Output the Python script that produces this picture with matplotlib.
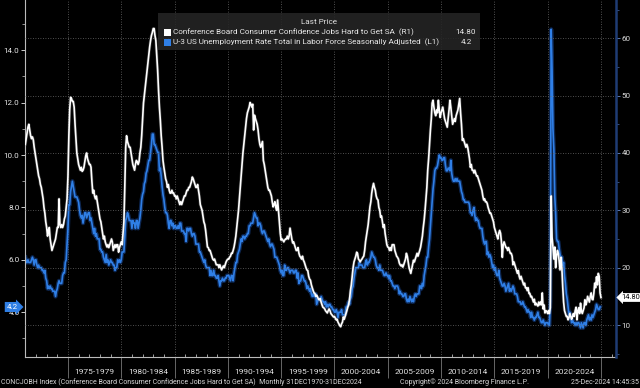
import matplotlib
matplotlib.use('Agg')
import matplotlib.pyplot as plt
import matplotlib.dates as mdates
import matplotlib.transforms as mtransforms
from matplotlib.ticker import MultipleLocator, FixedLocator, NullFormatter
from matplotlib.patches import Rectangle
import pandas as pd
from datetime import datetime

plt.rcParams['font.family'] = ['Roboto', 'DejaVu Sans']

# ---------------- DATA (monthly, starting Dec 1970) ----------------
series_start = '1970-12-31'

# Conference Board Consumer Confidence: Jobs Hard to Get (right axis, R1)
jhtg_1970s = [41.5,
    42.5, 43.5, 44.5, 45.0, 44.0, 43.0, 42.5, 42.8, 42.3, 41.0, 40.0, 39.0,
    38.0, 37.0, 36.0, 35.5, 34.5, 34.0, 33.0, 32.0, 30.5, 29.5, 28.0, 27.0,
    25.5, 26.5, 27.0, 25.0, 24.0, 23.0, 23.5, 24.0, 24.5, 25.0, 26.0, 27.0,
    27.0, 32.0, 27.5, 27.0, 27.5, 27.0, 27.5, 28.5, 29.0, 30.5, 32.0, 36.0,
    43.0, 47.5, 49.7, 49.5, 49.0, 49.0, 48.0, 45.0, 42.5, 40.0, 39.0, 38.0,
    37.5, 37.0, 37.5, 36.8, 37.0, 37.5, 38.5, 39.5, 40.0, 39.0, 38.5, 38.0,
    38.0, 37.5, 35.0, 33.0, 33.5, 32.5, 32.0, 32.5, 31.5, 30.5, 29.5, 28.5,
    28.0, 27.0, 26.0, 25.0, 25.5, 24.5, 24.0, 23.6, 24.0, 23.5, 24.0, 24.5,
    25.0, 24.5, 23.0, 23.5, 24.0, 23.5, 24.0, 24.0, 22.7, 23.5, 24.0, 24.5]
jhtg_1980s = [
    24.0, 26.0, 28.0, 34.0, 41.0, 43.0, 42.0, 41.5, 41.0, 41.0, 40.0, 39.0,
    38.0, 37.5, 37.0, 38.0, 38.7, 38.5, 38.0, 38.5, 40.0, 41.0, 43.0, 46.0,
    48.7, 50.0, 51.5, 53.0, 54.4, 55.5, 57.0, 58.5, 59.6, 60.5, 61.0, 61.7,
    61.7, 60.5, 59.6, 57.0, 54.4, 51.0, 48.0, 45.7, 43.0, 41.0, 38.7, 37.5,
    36.5, 35.5, 35.0, 34.0, 34.5, 33.5, 33.0, 33.0, 33.5, 33.0, 33.0, 32.5,
    32.5, 32.0, 32.5, 32.0, 31.5, 31.0, 31.5, 31.0, 31.5, 32.0, 32.5, 32.5,
    33.0, 33.5, 33.5, 34.0, 34.0, 34.5, 35.0, 35.8, 35.5, 35.0, 34.5, 34.0,
    34.0, 34.5, 33.5, 32.5, 31.0, 30.5, 30.0, 29.0, 28.0, 27.5, 26.5, 25.0,
    23.6, 23.5, 23.0, 23.0, 22.5, 22.0, 21.5, 21.3, 21.5, 21.0, 20.5, 20.5,
    20.5, 20.0, 20.5, 20.0, 19.6, 20.0, 20.3, 20.0, 20.5, 21.0, 21.3, 21.5]
jhtg_1990s = [
    21.5, 21.8, 22.0, 22.5, 22.5, 23.0, 23.6, 24.5, 25.5, 27.0, 28.3, 30.0,
    32.0, 34.0, 36.0, 38.0, 40.0, 41.5, 43.0, 44.5, 46.0, 47.0, 47.5, 48.0,
    48.8, 48.5, 48.0, 48.5, 44.0, 46.6, 46.0, 45.5, 45.0, 44.0, 42.5, 41.5,
    41.0, 41.5, 42.0, 38.7, 38.0, 37.0, 36.0, 35.0, 34.0, 33.5, 33.5, 33.0,
    32.5, 31.5, 30.6, 31.0, 31.5, 30.5, 30.0, 31.8, 30.0, 28.0, 26.0, 24.8,
    25.0, 24.8, 24.5, 24.8, 25.0, 25.0, 25.5, 25.0, 25.5, 26.9, 26.0, 25.0,
    24.3, 24.5, 24.0, 23.5, 23.0, 23.0, 23.5, 22.5, 22.0, 21.8, 21.5, 22.0,
    21.3, 21.0, 20.5, 20.0, 19.6, 19.5, 18.5, 18.0, 17.8, 17.0, 16.5, 16.0,
    15.6, 15.5, 15.0, 15.2, 14.9, 14.5, 14.4, 14.6, 14.0, 13.5, 13.1, 13.0,
    12.8, 12.5, 12.3, 12.1, 12.5, 12.8, 12.5, 12.0, 11.8, 11.6, 11.4, 11.5]
jhtg_2000s = [
    11.2, 10.9, 11.0, 10.5, 10.2, 9.9, 9.7, 10.2, 10.5, 11.4, 11.0, 11.5,
    12.0, 12.5, 13.1, 13.5, 14.5, 16.0, 17.0, 18.5, 20.0, 21.0, 21.5, 22.0,
    22.7, 22.5, 21.5, 21.3, 21.0, 21.3, 21.5, 21.8, 22.0, 23.0, 24.5, 25.5,
    26.5, 27.5, 29.0, 30.6, 31.5, 33.0, 34.0, 34.7, 34.0, 33.5, 32.5, 32.0,
    31.8, 30.5, 30.0, 28.8, 29.0, 28.0, 27.0, 27.5, 26.0, 25.0, 24.0, 23.6,
    23.5, 23.0, 23.5, 23.0, 24.0, 24.0, 24.0, 23.0, 22.5, 22.0, 21.8, 21.5,
    20.8, 20.5, 20.3, 20.5, 20.1, 20.5, 21.0, 21.5, 22.5, 22.0, 21.0, 20.0,
    19.5, 19.0, 19.8, 20.5, 21.3, 21.0, 21.5, 22.0, 22.5, 22.0, 22.5, 23.0,
    23.6, 24.5, 25.5, 27.0, 28.3, 30.0, 32.0, 34.0, 37.0, 39.0, 41.5, 44.0,
    46.0, 48.7, 49.2, 48.0, 47.0, 46.5, 47.5, 47.0, 49.2, 47.5, 46.2, 47.0]
jhtg_2010s = [
    47.5, 48.0, 47.0, 46.0, 45.5, 45.0, 44.5, 46.0, 47.5, 49.2, 48.0, 46.5,
    45.0, 45.5, 46.0, 45.5, 46.5, 47.0, 47.5, 48.5, 49.5, 47.0, 45.0, 42.2,
    42.5, 42.0, 41.5, 41.0, 41.5, 41.0, 40.0, 39.0, 37.5, 38.0, 37.0, 37.0,
    36.5, 37.0, 36.5, 36.0, 36.0, 35.5, 35.0, 34.5, 34.0, 33.5, 32.5, 31.8,
    32.0, 31.5, 31.5, 31.2, 30.5, 30.0, 29.5, 29.5, 29.0, 28.5, 28.0, 27.0,
    26.5, 26.0, 25.5, 25.0, 26.0, 26.5, 26.0, 24.5, 21.8, 24.0, 24.5, 24.0,
    23.5, 23.5, 23.0, 23.5, 23.0, 22.5, 22.5, 22.0, 20.5, 21.0, 20.5, 20.0,
    19.5, 19.0, 19.5, 18.5, 18.0, 18.5, 18.0, 17.5, 17.0, 17.3, 16.5, 16.5,
    16.0, 16.5, 15.5, 15.5, 14.9, 15.0, 14.5, 14.0, 14.5, 13.5, 13.8, 13.5,
    13.3, 14.0, 13.5, 14.0, 13.5, 15.6, 12.8, 13.5, 12.1, 12.5, 12.4, 12.0]
jhtg_2020s = [
    12.5, 12.0, 13.0, 32.5, 25.3, 23.6, 21.5, 23.6, 20.0, 22.0, 23.0, 22.5,
    21.0, 19.6, 21.8, 20.0, 16.6, 14.0, 12.5, 12.0, 11.5, 11.5, 10.9, 11.3,
    12.0, 11.5, 11.0, 11.4, 12.0, 11.5, 12.5, 13.1, 10.9, 12.5, 13.0, 12.0,
    13.8, 12.5, 12.0, 12.5, 13.0, 14.4, 13.5, 14.0, 15.0, 14.5, 14.0, 15.0,
    15.6, 14.5, 14.4, 15.5, 17.3, 16.5, 18.4, 17.0, 19.0, 18.5, 15.6, 14.8]

# U-3 US Unemployment Rate (left axis, L1)
unemp_1970s = [6.1,
    5.9, 5.9, 6.0, 5.9, 5.9, 5.9, 6.0, 6.1, 6.0, 5.8, 6.0, 6.0,
    5.8, 5.7, 5.8, 5.7, 5.7, 5.7, 5.6, 5.6, 5.5, 5.6, 5.3, 5.2,
    4.9, 5.0, 4.9, 5.0, 4.9, 4.9, 4.8, 4.8, 4.8, 4.6, 4.8, 4.9,
    5.1, 5.2, 5.1, 5.1, 5.1, 5.4, 5.5, 5.5, 5.9, 6.0, 6.6, 7.2,
    8.1, 8.1, 8.6, 8.8, 9.0, 8.8, 8.6, 8.4, 8.4, 8.4, 8.3, 8.2,
    7.9, 7.7, 7.6, 7.7, 7.4, 7.6, 7.8, 7.8, 7.6, 7.7, 7.8, 7.8,
    7.5, 7.6, 7.4, 7.2, 7.0, 7.2, 6.9, 7.0, 6.8, 6.8, 6.8, 6.4,
    6.4, 6.3, 6.3, 6.1, 6.0, 5.9, 6.2, 5.9, 6.0, 5.8, 5.9, 6.0,
    5.9, 5.9, 5.8, 5.8, 5.6, 5.7, 5.7, 6.0, 5.9, 6.0, 5.9, 6.0]
unemp_1980s = [
    6.3, 6.3, 6.3, 6.9, 7.5, 7.6, 7.8, 7.7, 7.5, 7.5, 7.5, 7.2,
    7.5, 7.4, 7.4, 7.2, 7.5, 7.5, 7.2, 7.4, 7.6, 7.9, 8.3, 8.5,
    8.6, 8.9, 9.0, 9.3, 9.4, 9.6, 9.8, 9.8, 10.1, 10.4, 10.8, 10.8,
    10.4, 10.4, 10.3, 10.2, 10.1, 10.1, 9.4, 9.5, 9.2, 8.8, 8.5, 8.3,
    8.0, 7.8, 7.8, 7.7, 7.4, 7.2, 7.5, 7.5, 7.3, 7.4, 7.2, 7.3,
    7.3, 7.2, 7.2, 7.3, 7.2, 7.4, 7.4, 7.1, 7.1, 7.1, 7.0, 7.0,
    6.7, 7.2, 7.2, 7.1, 7.2, 7.2, 7.0, 6.9, 7.0, 7.0, 6.9, 6.6,
    6.6, 6.6, 6.6, 6.3, 6.3, 6.2, 6.1, 6.0, 5.9, 6.0, 5.8, 5.7,
    5.7, 5.7, 5.7, 5.4, 5.6, 5.4, 5.4, 5.6, 5.4, 5.4, 5.3, 5.3,
    5.4, 5.2, 5.0, 5.2, 5.2, 5.3, 5.2, 5.2, 5.3, 5.3, 5.4, 5.4]
unemp_1990s = [
    5.4, 5.3, 5.2, 5.4, 5.4, 5.2, 5.5, 5.7, 5.9, 5.9, 6.2, 6.3,
    6.4, 6.6, 6.8, 6.7, 6.9, 6.9, 6.8, 6.9, 6.9, 7.0, 7.0, 7.3,
    7.3, 7.4, 7.4, 7.4, 7.6, 7.8, 7.7, 7.6, 7.6, 7.3, 7.4, 7.4,
    7.3, 7.1, 7.0, 7.1, 7.1, 7.0, 6.9, 6.8, 6.7, 6.8, 6.6, 6.5,
    6.6, 6.6, 6.5, 6.4, 6.1, 6.1, 6.1, 6.0, 5.9, 5.8, 5.6, 5.5,
    5.6, 5.4, 5.4, 5.8, 5.6, 5.6, 5.7, 5.7, 5.6, 5.5, 5.6, 5.6,
    5.6, 5.5, 5.5, 5.6, 5.6, 5.3, 5.5, 5.1, 5.2, 5.2, 5.4, 5.4,
    5.3, 5.2, 5.2, 5.1, 4.9, 5.0, 4.9, 4.8, 4.9, 4.7, 4.6, 4.7,
    4.6, 4.6, 4.7, 4.3, 4.4, 4.5, 4.5, 4.5, 4.6, 4.5, 4.4, 4.4,
    4.3, 4.4, 4.2, 4.3, 4.2, 4.3, 4.3, 4.2, 4.2, 4.1, 4.1, 4.0]
unemp_2000s = [
    4.0, 4.1, 4.0, 3.8, 4.0, 4.0, 4.0, 4.1, 3.9, 3.9, 3.9, 3.9,
    4.2, 4.2, 4.3, 4.4, 4.3, 4.5, 4.6, 4.9, 5.0, 5.3, 5.5, 5.7,
    5.7, 5.7, 5.7, 5.9, 5.8, 5.8, 5.8, 5.7, 5.7, 5.7, 5.9, 6.0,
    5.8, 5.9, 5.9, 6.0, 6.1, 6.3, 6.2, 6.1, 6.1, 6.0, 5.8, 5.7,
    5.7, 5.6, 5.8, 5.6, 5.6, 5.6, 5.5, 5.4, 5.4, 5.5, 5.4, 5.4,
    5.3, 5.4, 5.2, 5.2, 5.1, 5.0, 5.0, 4.9, 5.0, 5.0, 5.0, 4.9,
    4.7, 4.8, 4.7, 4.7, 4.6, 4.6, 4.7, 4.7, 4.5, 4.4, 4.5, 4.4,
    4.6, 4.5, 4.4, 4.5, 4.4, 4.6, 4.7, 4.6, 4.7, 4.7, 4.7, 5.0,
    5.0, 4.9, 5.1, 5.0, 5.4, 5.6, 5.8, 6.1, 6.1, 6.5, 6.8, 7.3,
    7.8, 8.3, 8.7, 9.0, 9.4, 9.5, 9.5, 9.6, 9.8, 10.0, 9.9, 9.9]
unemp_2010s = [
    9.8, 9.8, 9.9, 9.9, 9.6, 9.4, 9.4, 9.5, 9.5, 9.4, 9.8, 9.3,
    9.1, 9.0, 9.0, 9.1, 9.0, 9.1, 9.0, 9.0, 9.0, 8.8, 8.6, 8.5,
    8.3, 8.3, 8.2, 8.2, 8.2, 8.2, 8.2, 8.1, 7.8, 7.8, 7.7, 7.9,
    8.0, 7.7, 7.5, 7.6, 7.5, 7.5, 7.3, 7.2, 7.2, 7.2, 6.9, 6.7,
    6.6, 6.7, 6.7, 6.2, 6.3, 6.1, 6.2, 6.1, 5.9, 5.7, 5.8, 5.6,
    5.7, 5.5, 5.4, 5.4, 5.6, 5.3, 5.2, 5.1, 5.0, 5.0, 5.1, 5.0,
    4.8, 4.9, 5.0, 5.1, 4.8, 4.9, 4.8, 4.9, 5.0, 4.9, 4.7, 4.7,
    4.7, 4.6, 4.4, 4.4, 4.4, 4.3, 4.3, 4.4, 4.3, 4.2, 4.2, 4.1,
    4.0, 4.1, 4.0, 4.0, 3.8, 4.0, 3.8, 3.8, 3.7, 3.8, 3.8, 3.9,
    4.0, 3.8, 3.8, 3.7, 3.6, 3.6, 3.7, 3.6, 3.5, 3.6, 3.6, 3.6]
unemp_2020s = [
    3.5, 3.5, 4.4, 14.8, 13.2, 11.0, 10.2, 8.4, 7.8, 6.8, 6.7, 6.7,
    6.4, 6.2, 6.1, 6.1, 5.8, 5.9, 5.4, 5.1, 4.7, 4.5, 4.2, 3.9,
    4.0, 3.8, 3.6, 3.7, 3.6, 3.6, 3.5, 3.6, 3.5, 3.6, 3.6, 3.5,
    3.4, 3.6, 3.5, 3.4, 3.6, 3.6, 3.5, 3.7, 3.8, 3.9, 3.7, 3.8,
    3.7, 3.9, 3.8, 3.9, 4.0, 4.1, 4.3, 4.2, 4.1, 4.1, 4.2]

period_labels = ['1975-1979', '1980-1984', '1985-1989', '1990-1994', '1995-1999',
                 '2000-2004', '2005-2009', '2010-2014', '2015-2019', '2020-2024']
period_starts = [1975, 1980, 1985, 1990, 1995, 2000, 2005, 2010, 2015, 2020]

left_ticks = [4, 6, 8, 10, 12, 14]
right_ticks = [10, 20, 30, 40, 50, 60]

name_jhtg = 'Conference Board Consumer Confidence Jobs Hard to Get SA  (R1)'
name_unemp = 'U-3 US Unemployment Rate Total in Labor Force Seasonally Adjusted  (L1)'
last_jhtg_txt = '14.80'
last_unemp_txt = '4.2'

# ---------------- build series ----------------
jhtg = jhtg_1970s + jhtg_1980s + jhtg_1990s + jhtg_2000s + jhtg_2010s + jhtg_2020s
unemp = unemp_1970s + unemp_1980s + unemp_1990s + unemp_2000s + unemp_2010s + unemp_2020s
d_jhtg = pd.date_range(series_start, periods=len(jhtg), freq='ME')
d_unemp = pd.date_range(series_start, periods=len(unemp), freq='ME')

# ---------------- figure ----------------
W, H = 640, 388
fig = plt.figure(figsize=(6.4, 3.88), dpi=100, facecolor='black')
def fx(p): return p / W
def fy(p): return 1 - p / H

ax = fig.add_axes([fx(25), fy(357), fx(616) - fx(25), (357 - 0) / H])
ax.set_facecolor('black')
ax2 = ax.twinx()

BLUE = '#2f7fe6'
# blue line with glow
ax.plot(d_unemp, unemp, color='#1d57b8', lw=3.0, alpha=0.45, solid_joinstyle='round')
ax.plot(d_unemp, unemp, color=BLUE, lw=1.2, solid_joinstyle='round')
# white line
ax2.plot(d_jhtg, jhtg, color='#9a9a9a', lw=2.2, alpha=0.3, solid_joinstyle='round')
ax2.plot(d_jhtg, jhtg, color='white', lw=1.2, solid_joinstyle='round')

ax.set_xlim(datetime(1970, 12, 20), datetime(2026, 5, 30))
ax.set_ylim(2.29, 15.92)
ax2.set_ylim(4.42, 66.68)

# y axes
ax.yaxis.set_major_locator(FixedLocator(left_ticks))
ax.yaxis.set_minor_locator(MultipleLocator(1))
ax.set_yticklabels([f'{v:.1f}' for v in left_ticks])
ax.tick_params(axis='y', which='major', direction='out', length=3, width=0.7,
               color='#cccccc', labelcolor='#e6e6e6', labelsize=5.8, pad=1)
ax.tick_params(axis='y', which='minor', direction='out', length=2, width=0.6, color='#aaaaaa')

ax2.yaxis.set_major_locator(FixedLocator(right_ticks))
ax2.yaxis.set_minor_locator(MultipleLocator(5))
ax2.set_yticklabels([str(v) for v in right_ticks])
ax2.tick_params(axis='y', which='major', direction='out', length=3, width=0.7,
                color='#5a78b0', labelcolor='#dcdcdc', labelsize=5.8, pad=1)
ax2.tick_params(axis='y', which='minor', direction='out', length=2, width=0.6, color='#3d5a8f')

# x axis
ax.xaxis.set_major_locator(mdates.YearLocator(5))
ax.xaxis.set_minor_locator(mdates.YearLocator(1))
ax.xaxis.set_major_formatter(NullFormatter())
ax.tick_params(axis='x', which='major', direction='out', length=15, width=0.6, color='#777777')
ax.tick_params(axis='x', which='minor', direction='in', length=2, width=0.6, color='#bbbbbb')

# spines
for a in (ax, ax2):
    a.spines['top'].set_visible(False)
ax.spines['left'].set_color('#bbbbbb'); ax.spines['left'].set_linewidth(0.8)
ax.spines['bottom'].set_color('#bbbbbb'); ax.spines['bottom'].set_linewidth(0.8)
ax.spines['right'].set_visible(False)
ax2.spines['left'].set_visible(False)
ax2.spines['bottom'].set_visible(False)
ax2.spines['right'].set_color('#1f3c74'); ax2.spines['right'].set_linewidth(1.8)

# grid
grid_style = dict(color='#6a6a6a', lw=0.6, ls=(0, (1, 2)))
ax2.yaxis.grid(True, **grid_style)
ax.xaxis.grid(True, which='major', **grid_style)
ax.set_axisbelow(True)
ax2.set_axisbelow(True)

# period labels under the axis
trans_lab = mtransforms.blended_transform_factory(ax.transData, ax.transAxes)
for s, lab in zip(period_starts, period_labels):
    x0 = mdates.date2num(datetime(s, 1, 1))
    x1 = mdates.date2num(datetime(s + 5, 1, 1))
    ax.text((x0 + x1) / 2, -15 / 357, lab, transform=trans_lab, ha='center', va='center',
            fontsize=6.0, color='#e0e0e0', clip_on=False)

# last value tags
trans_l = mtransforms.blended_transform_factory(ax.transAxes, ax.transData)
ax.text(-0.012, unemp[-1], last_unemp_txt, transform=trans_l, ha='right', va='center',
        fontsize=5.8, color='white', clip_on=False, zorder=10,
        bbox=dict(boxstyle='rarrow,pad=0.25', fc=BLUE, ec='none'))
trans_r = mtransforms.blended_transform_factory(ax2.transAxes, ax2.transData)
ax2.text(1.0085, jhtg[-1], last_jhtg_txt, transform=trans_r, ha='left', va='center',
         fontsize=5.4, color='black', clip_on=False, zorder=10,
         bbox=dict(boxstyle='larrow,pad=0.12', fc='white', ec='none'))

# legend box
fig.add_artist(Rectangle((fx(158), fy(50)), fx(480) - fx(158), (50 - 13) / H,
                         transform=fig.transFigure, fc='#252525', ec='none', alpha=0.88, zorder=5))
fig.text(fx(319), fy(22), 'Last Price', ha='center', va='center', fontsize=5.9, color='#e0e0e0', zorder=6)
fig.add_artist(Rectangle((fx(164), fy(36)), fx(7), 7 / H, transform=fig.transFigure,
                         fc='white', ec='none', zorder=6))
fig.add_artist(Rectangle((fx(164), fy(46)), fx(7), 7 / H, transform=fig.transFigure,
                         fc=BLUE, ec='none', zorder=6))
fig.text(fx(173), fy(32.5), name_jhtg, ha='left', va='center', fontsize=5.9, color='#e8e8e8', zorder=6)
fig.text(fx(476), fy(32.5), last_jhtg_txt, ha='right', va='center', fontsize=5.9, color='#e8e8e8', zorder=6)
fig.text(fx(173), fy(42.5), name_unemp, ha='left', va='center', fontsize=5.9, color='#e8e8e8', zorder=6)
fig.text(fx(472), fy(42.5), last_unemp_txt, ha='right', va='center', fontsize=5.9, color='#e8e8e8', zorder=6)

# footer
fig.text(fx(1), fy(382), 'CONCJOBH Index (Conference Board Consumer Confidence Jobs Hard to Get SA)  Monthly 31DEC1970-31DEC2024',
         ha='left', va='center', fontsize=5.0, color='#d8d8d8')
fig.text(fx(465), fy(382), 'Copyright\u00a9 2024 Bloomberg Finance L.P.', ha='center', va='center',
         fontsize=5.0, color='#d8d8d8')
fig.text(fx(639), fy(382), '25-Dec-2024 14:45:35', ha='right', va='center', fontsize=5.0, color='#d8d8d8')

fig.savefig('out.png', dpi=100, facecolor='black')
